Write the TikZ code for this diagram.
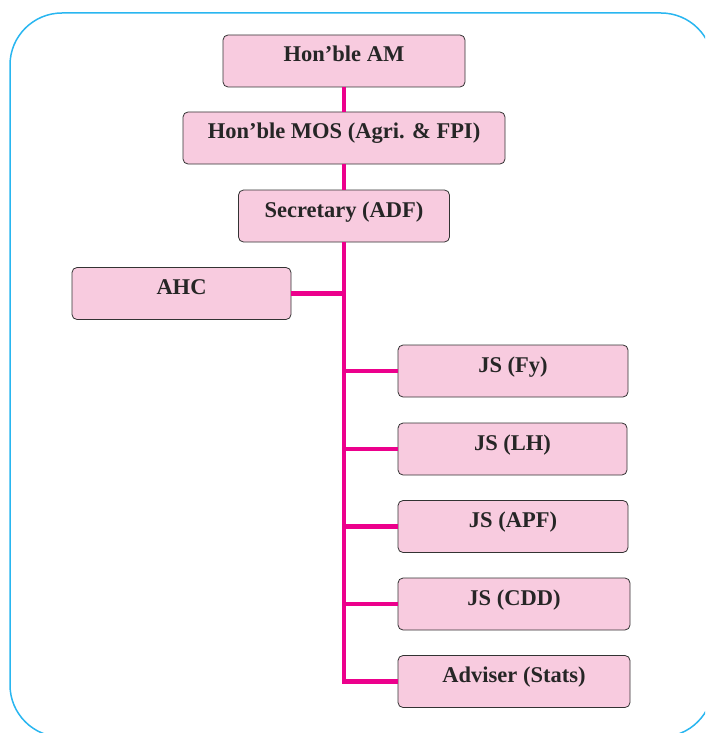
\documentclass[tikz,border=0pt]{standalone}
\usepackage{fontspec}
\setmainfont{Liberation Serif}
\definecolor{boxpink}{RGB}{248,203,223}
\definecolor{linkmag}{RGB}{236,0,140}
\definecolor{framecyan}{RGB}{41,182,240}
\begin{document}
\begin{tikzpicture}[x=1pt,y=-1pt]
        \useasboundingbox (0,0) rectangle (705,733);
        \clip (0,0) rectangle (705,733);
        \draw [framecyan, line width=1.5pt, rounded corners=52pt] (10,13) rectangle (713,737);

        \begin{scope}[every node/.style={draw=black!80, fill=boxpink, rounded corners=5pt,
            line width=0.8pt, inner sep=0pt, text height=27pt, text depth=25pt,
            font=\fontsize{22.5}{26}\selectfont\bfseries, text=black!85}]
            \node[minimum width=242pt] (am) at (344, 61) {Hon’ble AM};
            \node[minimum width=322pt] (mos) at (344, 138) {Hon’ble MOS (Agri. \& FPI)};
            \node[minimum width=211pt] (sec) at (344, 216) {Secretary (ADF)};
            \node[minimum width=219pt] (ahc) at (181.5, 293.5) {AHC};
            \node[minimum width=230pt] (fy) at (513, 371) {JS (Fy)};
            \node[minimum width=229pt] (lh) at (512.5, 449) {JS (LH)};
            \node[minimum width=230pt] (apf) at (513, 526.5) {JS (APF)};
            \node[minimum width=232pt] (cdd) at (514, 604) {JS (CDD)};
            \node[minimum width=232pt] (adv) at (514, 681.5) {Adviser (Stats)};
        \end{scope}

        \begin{scope}[
            every edge/.style={draw=linkmag, line width=4.5pt}]
            \path [-] (am) edge (mos);
            \path [-] (mos) edge (sec);
            \path [-] (sec.south) edge[to path={|- (\tikztotarget)}] (adv.west);
            \path [-] (ahc.east) edge (ahc.east -| sec.south);
            \foreach \js in {fy, lh, apf, cdd}
                \path [-] (sec.south |- \js.west) edge (\js.west);
        \end{scope}
        \end{tikzpicture}
\end{document}
